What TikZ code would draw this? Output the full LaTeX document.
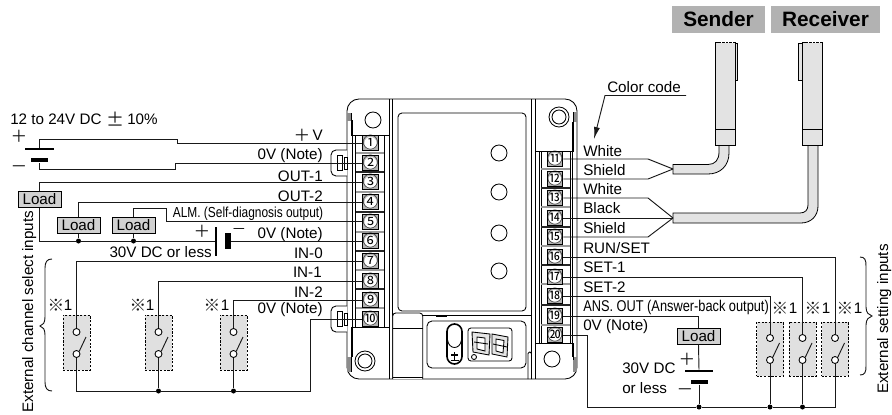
\documentclass[tikz,border=0pt]{standalone}
\usepackage{fontspec}
\setmainfont{Liberation Sans}
\newfontfamily\cjkf{Noto Sans CJK JP}
\newfontfamily\narrowf[FakeStretch=0.82]{Liberation Sans}
\usetikzlibrary{arrows.meta}
\tikzset{
 wire/.style={line width=0.7pt,color=black!90},
 dev/.style={line width=0.65pt,color=black},
 lbl/.style={inner sep=0pt,font=\fontsize{11.4}{12}\selectfont,text=black},
 lble/.style={lbl,anchor=base east},
 lblw/.style={lbl,anchor=base west},
 nlbl/.style={inner sep=0pt,font=\fontsize{10.9}{12}\narrowf,text=black},
 term/.style={draw=black,line width=0.6pt,fill=black!30,inner sep=0pt,minimum width=15*0.75pt,minimum height=15*0.75pt,font=\fontsize{11.8}{12}\cjkf,
   path picture={\fill[white] (path picture bounding box.center) circle (4.6pt);}},
 loadbox/.style={draw=black,line width=0.75pt,fill=black!18,inner sep=0pt,minimum width=43*0.75pt,minimum height=16*0.75pt,font=\fontsize{11.4}{12}\selectfont},
 swbox/.style={draw=black,dashed,dash pattern=on 1.6pt off 1.2pt,line width=0.6pt,fill=black!12,inner sep=0pt,minimum width=27*0.75pt},
 contact/.style={circle,draw=black,line width=0.65pt,fill=white,inner sep=0pt,minimum size=7*0.75pt},
 jdot/.style={circle,fill=black,inner sep=0pt,minimum size=5*0.75pt},
 sym/.style={inner sep=0pt,font=\fontsize{12.5}{13}\cjkf,text=black!90},
 plate/.style={fill=black,inner sep=0pt,minimum height=1.5pt},
 thickplate/.style={fill=black,inner sep=0pt,minimum height=3.6pt},
 hdr/.style={fill=black!30,inner sep=0pt,font=\fontsize{15.6}{16}\bfseries},
 sensor/.style={draw=black,line width=0.6pt,fill=black!11},
 hole/.style={circle,draw=black,line width=0.65pt,fill=white,inner sep=0pt},
 sepbar/.style={line width=1.5pt,color=black!40},
 sepdark/.style={line width=0.9pt,color=black!85},
}
\begin{document}
\begin{tikzpicture}[x=0.75pt,y=-0.75pt]
\useasboundingbox (0,0) rectangle (892,414);
% ---------- device body
\draw[dev,fill=white,rounded corners=12*0.75pt] (347,99) rectangle (577,379);
\draw[dev] (352,120) -- (352,357);
\draw[dev] (572.5,122) -- (572.5,357);
\fill[black!45] (347.3,113) rectangle (351,121);
\fill[black!45] (347.3,357) rectangle (351,372);
\fill[black!45] (573,112) rectangle (576.7,122);
\fill[black!45] (573,357) rectangle (576.7,372);
\foreach \x in {389,392.7,531.7,535.4} \draw[dev] (\x,99) -- (\x,379);
\draw[dev] (351.5,113) -- (351.5,135) -- (389,135);
\draw[dev] (535.4,151) -- (573.5,151) -- (573.5,112);
\draw[dev] (351.5,372) -- (351.5,327) -- (389,327);
\draw[dev] (535.4,343) -- (573,343) -- (573,360);
\draw[dev] (355.7,135) -- (355.7,327);
\draw[dev] (384,135) -- (384,327);
\draw[dev] (541,151) -- (541,343);
\draw[dev] (539,151) -- (539,343);
\draw[dev] (570,151) -- (570,343);
% separators
\foreach \y in {152.5,192,232,269.5,308} \draw[sepbar] (355.7,\y) -- (384,\y);
\foreach \y in {172,212,251,289} \draw[sepdark] (355.7,\y) -- (384,\y);
\foreach \y in {169,207,246,284,325} \draw[sepbar] (541,\y) -- (570,\y);
\foreach \y in {188,227,265,305} \draw[sepdark] (541,\y) -- (570,\y);
% holes
\node[hole,minimum size=16*0.75pt] (h1) at (373,120) {};
\node[hole,minimum size=20*0.75pt] (h2) at (559,117) {};
\node[hole,minimum size=14*0.75pt] (h2i) at (559,117) {};
\node[hole,minimum size=20*0.75pt] (h3) at (365,361) {};
\node[hole,minimum size=14*0.75pt] (h3i) at (365,361) {};
\node[hole,minimum size=16*0.75pt] (h4) at (552,359) {};
% window and LEDs
\draw[dev,rounded corners=4*0.75pt] (398,113) rectangle (526,311);
\foreach \y/\nm in {153/a,192/b,233/c,271/d} \node[hole,minimum size=16*0.75pt] (led\nm) at (499,\y) {};
\draw[dev] (392.7,315) -- (531.7,315);
\draw[dev] (436,315) -- (436,316.5) -- (446,316.5) -- (446,315);
% lower panels
\draw[dev,fill=white,rounded corners=3*0.75pt] (392.7,379) -- (392.7,313) -- (422.7,313) -- (422.7,379);
\draw[dev] (392.7,328) -- (422.7,328);
\draw[dev] (392.7,377) -- (422.7,377);
\draw[dev,rounded corners=5*0.75pt] (427,321) rectangle (526,368);
\draw[line width=1.2pt,rounded corners=7.5*0.75pt] (447,324) rectangle (462,364);
\draw[dev] (447.5,340) .. controls (449,350) and (460,350) .. (461.5,340);
\draw[line width=1pt] (451,355) -- (458,355);
\draw[line width=1pt] (454.5,352) -- (454.5,360);
\draw[line width=0.8pt] (450.5,360.5) -- (458.5,360.5);
\draw[dev,rounded corners=3*0.75pt] (468,328) rectangle (512,361);
\draw[dev,fill=black!10] (472,332) -- (490,334) -- (489,355) -- (473,352) -- cycle;
\draw[dev,fill=white] (477,337) -- (485,338) -- (485,351) -- (477,349) -- cycle;
\draw[dev] (474,342) -- (488,344);
\draw[dev,fill=black!10] (492,334) -- (508,337) -- (507,357) -- (492,354) -- cycle;
\draw[dev,fill=white] (496,339) -- (504,340.5) -- (503,353) -- (496,351) -- cycle;
\draw[dev] (493,344) -- (507,347);
\node[hole,minimum size=5*0.75pt] (dp) at (474,357) {};
\draw[dev,rounded corners=1.5*0.75pt] (528,379) -- (528,352) -- (531.5,352) -- (531.5,379);
% jumpers
\foreach \dy/\nm in {0/a,156/b}{
 \draw[dev,fill=white,rounded corners=5*0.75pt] (347,150+\dy) -- (331,150+\dy) -- (331,176+\dy) -- (347,176+\dy);
 \draw[dev] (337,155+\dy) rectangle (342,170+\dy);
 \draw[dev] (344,157+\dy) rectangle (347,169+\dy);
}
% ---------- terminals
\foreach \n/\y/\c in {1/143/①,2/163/②,3/182/③,4/202/④,5/221.7/⑤,6/241/⑥,7/261/⑦,8/281/⑧,9/300/⑨,10/319/⑩}
  \node[term] (t\n) at (370.5,\y) {\c};
\foreach \n/\y/\c in {11/159/⑪,12/179/⑫,13/198/⑬,14/218/⑭,15/237/⑮,16/257/⑯,17/277/⑰,18/296/⑱,19/316/⑲,20/335/⑳}
  \node[term] (t\n) at (555,\y) {\c};
% ---------- left supply and loads
\node[plate,minimum width=29*0.75pt] (batA) at (39.5,149) {};
\node[thickplate,minimum width=17*0.75pt] (batB) at (39.5,160) {};
\draw[wire] (t1.west) -- (177,143) -- (177,139) -- (39.5,139) -- (batA.north);
\draw[wire] (t2.west) -- (175,163) -- (175,169) -- (39.5,169) -- (batB.south);
\node[loadbox] (load1) at (39.5,199) {Load};
\node[loadbox] (load2) at (78.5,225) {Load};
\node[loadbox] (load3) at (133.5,225) {Load};
\node[plate,minimum width=1.5pt,minimum height=29*0.75pt] (batC) at (216,241) {};
\node[fill=black,inner sep=0pt,minimum width=5.6*0.75pt,minimum height=16*0.75pt] (batD) at (228,241) {};
\node[jdot] (dl2) at (78.5,241) {};
\node[jdot] (dl3) at (133.5,241) {};
\draw[wire] (t3.west) -| (load1.north);
\draw[wire] (load1.south) |- (dl2.west);
\draw[wire] (dl2) -- (dl3) -- (batC);
\draw[wire] (batD) -- (t6.west);
\draw[wire] (t4.west) -| (load2.north);
\draw[wire] (load2.south) -- (dl2);
\draw[wire] (t5.west) -| (166,208) -| (load3.north);
\draw[wire] (load3.south) -- (dl3);
% ---------- left switches
\foreach \nm/\x in {1/76.5,2/158.5,3/233.5}{
 \node[swbox,minimum height=55*0.75pt] (sb\nm) at (\x,342.5) {};
 \node[contact] (sa\nm) at (\x,332) {};
 \node[contact] (sc\nm) at (\x,354) {};
 \coordinate (la\nm) at (\x+9.5,337);
 \draw[wire] (sc\nm.north east) -- (la\nm);
}
\node[jdot] (dg2) at (158.5,391) {};
\node[jdot] (dg3) at (233.5,391) {};
\coordinate (gndL) at (310,391);
\draw[wire] (t7.west) -| (sa1.north);
\draw[wire] (t8.west) -| (sa2.north);
\draw[wire] (t9.west) -| (sa3.north);
\draw[wire] (t10.west) -| (gndL) -- (dg3) -- (dg2);
\draw[wire] (dg2) -| (sc1.south);
\draw[wire] (sc2.south) -- (dg2);
\draw[wire] (sc3.south) -- (dg3);
% ---------- sensors
\path[sensor] (673,164.5) -- (708,164.5) .. controls (715,164.5) and (719,160) .. (719,152) -- (719,145) -- (729,145) -- (729,153) .. controls (729,166) and (720,174) .. (708,174) -- (673,174) -- cycle;
\path[sensor] (673,213) -- (800,213) .. controls (805,213) and (808,210) .. (808,205) -- (808,145) -- (818,145) -- (818,206) .. controls (818,216) and (811,223) .. (801,223) -- (673,223) -- cycle;
\draw[sensor] (715,42) rectangle (735,145);
\draw[dev] (715,129) -- (735,129);
\draw[sensor] (735,43) rectangle (737.5,80);
\draw[dev,dotted,color=white] (721,42) -- (733,42);
\draw[sensor] (802,42) rectangle (822,145);
\draw[dev] (802,129) -- (822,129);
\draw[sensor] (798.5,43) rectangle (802,80);
\draw[dev,dotted,color=white] (808,42) -- (820,42);
\coordinate (capS) at (673,169);
\coordinate (capR) at (673,218);
\draw[wire] (t11.east) -- (648,159) -- (capS);
\draw[wire] (t12.east) -- (648,179) -- (capS);
\draw[wire] (t13.east) -- (648,198) -- (capR);
\draw[wire] (t14.east) -- (capR);
\draw[wire] (t15.east) -- (648,237) -- (capR);
\node[hdr,minimum width=93*0.75pt,minimum height=27*0.75pt] (sender) at (718.5,19.5) {Sender};
\node[hdr,minimum width=109*0.75pt,minimum height=27*0.75pt] (receiver) at (825.5,19.5) {Receiver};
% colour code leader
\node[lblw] (cc) at (607,92.5) {Color code};
\coordinate (ccEnd) at (686,95.5);
\coordinate (ccTip) at (594,139);
\draw[wire,-{Latex[length=9pt,width=4.5pt]}] (ccEnd) -- (605,95.5) -- (ccTip);
% ---------- right load and switches
\node[loadbox] (load4) at (698.5,336) {Load};
\node[plate,minimum width=28*0.75pt] (batE) at (699,371) {};
\node[thickplate,minimum width=17*0.75pt] (batF) at (699,382) {};
\node[jdot] (dr1) at (699,407) {};
\node[jdot] (dr2) at (770,407) {};
\node[jdot] (dr3) at (802.5,407) {};
\draw[wire] (t19.east) -| (load4.north);
\draw[wire] (load4.south) -- (batE.north);
\draw[wire] (batF.south) -- (dr1);
\foreach \nm/\x in {4/770,5/802.5,6/835}{
 \node[swbox,minimum height=54*0.75pt] (sb\nm) at (\x,349) {};
 \node[contact] (sa\nm) at (\x,338) {};
 \node[contact] (sc\nm) at (\x,360) {};
 \coordinate (la\nm) at (\x+9.5,343);
 \draw[wire] (sc\nm.north east) -- (la\nm);
}
\draw[wire] (t16.east) -| (sa6.north);
\draw[wire] (t17.east) -| (sa5.north);
\draw[wire] (t18.east) -| (sa4.north);
\coordinate (gndR) at (835,407);
\draw[wire] (t20.east) -| (587,407) -- (dr1) -- (dr2) -- (dr3) -- (gndR) -- (sc6.south);
\draw[wire] (sc4.south) -- (dr2);
\draw[wire] (sc5.south) -- (dr3);
% braces
\draw[wire] (52,259) .. controls (47,259) and (45,262) .. (45,268) -- (45,317) .. controls (45,323) and (43,325) .. (40,326) .. controls (43,327) and (45,329) .. (45,335) -- (45,382) .. controls (45,388) and (47,391) .. (52,391);
\draw[wire] (860,257) .. controls (865,257) and (866,260) .. (866,266) -- (866,307) .. controls (866,313) and (869,315) .. (872,316) .. controls (869,317) and (866,319) .. (866,325) -- (866,366) .. controls (866,372) and (865,375) .. (860,375);
% ---------- labels
\node[lbl,anchor=base west] (lsupply) at (10,124) {12 to 24V DC};
\node[sym,font=\fontsize{13.5}{14}\cjkf] (lpm) at (115.5,119) {±};
\node[lbl,anchor=base west] (lpct) at (127,124) {10\%};
\node[sym] (sp1) at (19,136) {＋};
\node[sym] (sm1) at (19,169) {－};
\node[sym] (sp2) at (202,231) {＋};
\node[sym,font=\fontsize{11}{11}\cjkf] (sm2) at (239,231) {－};
\node[sym] (sp3) at (687,359) {＋};
\node[sym] (sm3) at (685,392) {－};
\node[sym] (vp) at (302,135) {＋};
\node[lble] (lv) at (323,140) {V};
\node[lble] (l0a) at (323,159) {0V (Note)};
\node[lble] (lo1) at (323,181) {OUT-1};
\node[lble] (lo2) at (323,201) {OUT-2};
\node[nlbl,anchor=base east] (lalm) at (323.5,217) {ALM. (Self-diagnosis output)};
\node[lble] (l0b) at (323,238) {0V (Note)};
\node[lble] (l30) at (212,257) {30V DC or less};
\node[lble] (li0) at (323,258) {IN-0};
\node[lble] (li1) at (322,277) {IN-1};
\node[lble] (li2) at (323,297) {IN-2};
\node[lble] (l0c) at (323,313) {0V (Note)};
\node[lblw] (lw1) at (583,156) {White};
\node[lblw] (ls1) at (583,175) {Shield};
\node[lblw] (lw2) at (583,194) {White};
\node[lblw] (lb) at (583,213) {Black};
\node[lblw] (ls2) at (583,233) {Shield};
\node[lblw] (lrs) at (583,253) {RUN/SET};
\node[lblw] (ls3) at (583,272) {SET-1};
\node[lblw] (ls4) at (583,292) {SET-2};
\node[nlbl,font=\fontsize{11.7}{12}\narrowf,anchor=base west] (lans) at (583,311) {ANS. OUT (Answer-back output)};
\node[lblw] (l0d) at (583,330) {0V (Note)};
\node[lblw] (l30b) at (622,373) {30V DC};
\node[lblw] (lless) at (622,393) {or less};
\foreach \nm/\xa/\xb/\yy in {a/56/68/305,b/138/150/305,c/212/225/305,d/780/793/308,e/813/826/308,f/845/858/308}{
 \node[sym] (rm\nm) at (\xa,\yy) {※};
 \node[lbl] (rn\nm) at (\xb,\yy+0.5) {1};
}
\node[lbl,rotate=90,anchor=base west] (lext1) at (33,413) {External channel select inputs};
\node[lbl,rotate=90,anchor=base west] (lext2) at (888,394) {External setting inputs};
\end{tikzpicture}
\end{document}
